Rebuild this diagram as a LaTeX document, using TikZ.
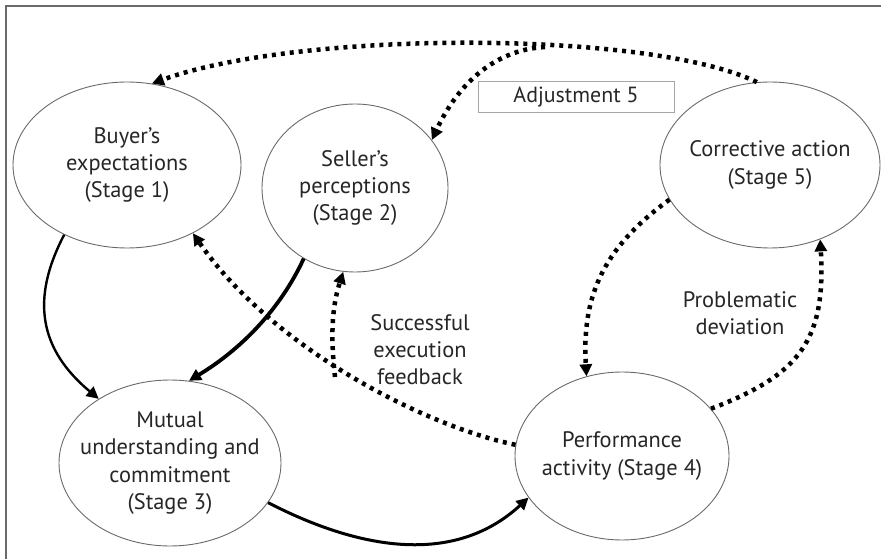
\documentclass[tikz,border=0pt]{standalone}
\usepackage{fontspec}
\setmainfont{PT Sans}
\usetikzlibrary{shapes.geometric,arrows.meta}
\definecolor{ink}{HTML}{262626}
\definecolor{rim}{HTML}{6A6A6A}
% centred lines of text that do not widen the ellipse around them
\newcommand{\stagetext}[1]{\makebox[0pt]{\begin{tabular}{@{}c@{}}#1\end{tabular}}}
\begin{document}
\begin{tikzpicture}[x=1bp,y=-1bp,
  stagebox/.style={ellipse,draw=rim,line width=0.9bp,inner sep=0pt,text=ink,
    font=\fontsize{22.5}{27.5}\selectfont},
  plainlabel/.style={text=ink,align=center,font=\fontsize{22.5}{27}\selectfont},
  tip/.style={-{Triangle[length=12bp,width=12bp]}},
  firm/.style={tip,line width=2.4bp,draw=black},
  dotline/.style={tip,line width=4.5bp,dash pattern=on 4bp off 5bp,draw=black}]
\useasboundingbox (0,0) rectangle (881,559);
% frame edges
\draw[rim,line width=1.5bp] (6,559) -- (6,6) -- (881,6);

% stages
\node[stagebox,minimum width=228bp,minimum height=166bp] (e1) at (127,165)
  {\stagetext{Buyer's\\expectations\\(Stage 1)}};
\node[stagebox,minimum width=186bp,minimum height=168bp] (e2) at (355,188)
  {\stagetext{Seller's\\perceptions\\(Stage 2)}};
\node[stagebox,minimum width=222bp,minimum height=166bp] (e3) at (170,463)
  {\stagetext{Mutual\\understanding and\\commitment\\(Stage 3)}};
\node[stagebox,minimum width=214bp,minimum height=168bp] (e4) at (622,456)
  {\raisebox{2bp}{\stagetext{Performance\\activity (Stage 4)}}};
\node[stagebox,minimum width=220bp,minimum height=166bp] (e5) at (770,165)
  {\raisebox{12bp}{\stagetext{Corrective action\\(Stage 5)}}};

% adjustment box
\node[draw=rim!60,line width=0.8bp,minimum width=196bp,minimum height=31bp,inner sep=0pt,
  text=ink,font=\fontsize{22}{24}\selectfont] (adj) at (576,97) {Adjustment 5};

% labels
\node[plainlabel] (lsucc) at (420,350) {Successful\\execution\\feedback};
\node[plainlabel] (lprob) at (740,313) {Problematic\\deviation};

% solid connectors
\draw[firm] (e1.228) .. controls (30,300) and (40,350) .. (e3.138);
\draw[firm,line width=3.8bp] (e2.234) .. controls (280,310) and (240,350) .. (e3.77);
\draw[firm,line width=3bp] (e3.-22) .. controls (350,545) and (450,570) .. (e4.204);

% dotted connectors
\coordinate (fb) at (335,377);
\coordinate (tp) at (545,47);
\draw[dotline] (e4.174) .. controls (420,425) and (270,345) .. (e1.-46);
\draw[dotline] (fb) .. controls (331,340) and (331,310) .. (e2.-98);
\draw[dotline] (e5.199) .. controls (600,250) and (582,300) .. (e4.114);
\draw[dotline] (e4.28) .. controls (800,375) and (826,340) .. (e5.-56);
\draw[dotline] (e5.99) .. controls (650,30) and (300,30) .. (e1.73);
\draw[dotline] (tp) .. controls (490,50) and (455,90) .. (e2.32);
\end{tikzpicture}
\end{document}
